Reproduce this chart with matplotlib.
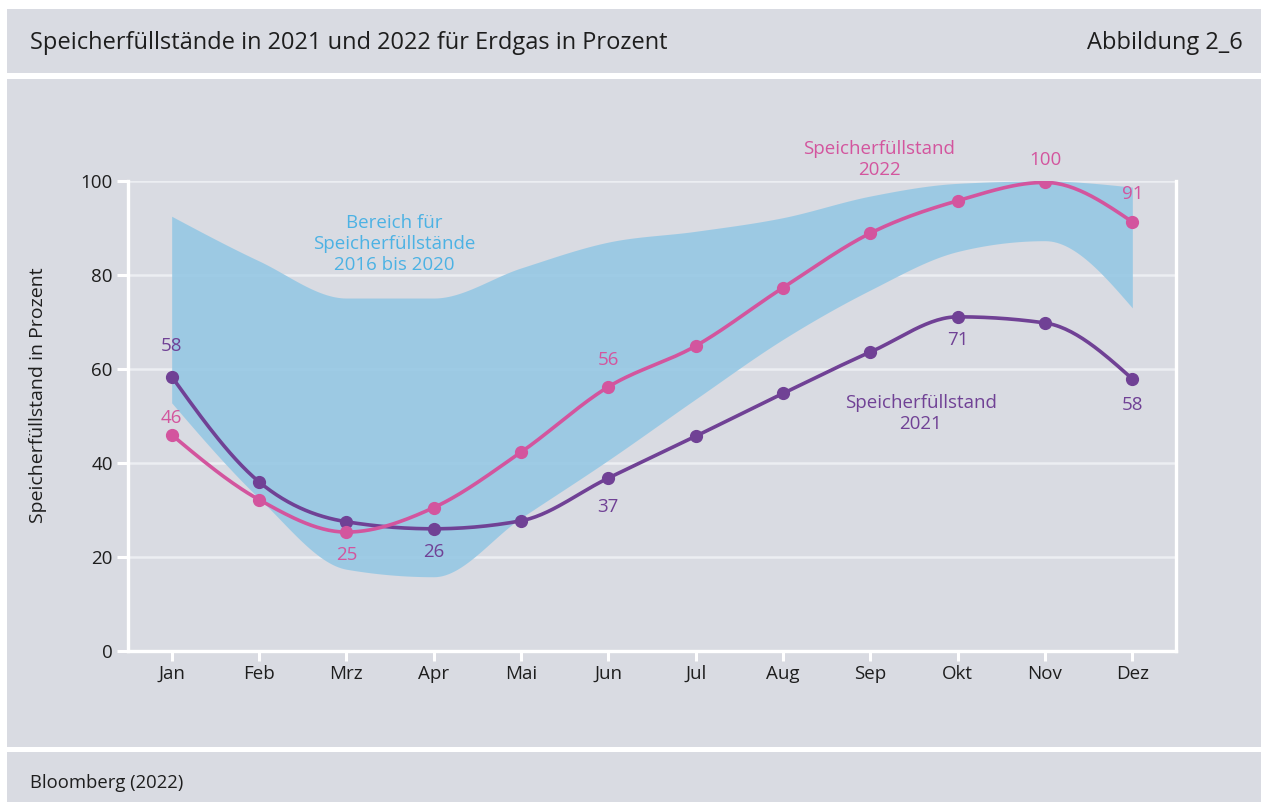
import numpy as np
import matplotlib
matplotlib.use("Agg")
import matplotlib.pyplot as plt
from matplotlib.patches import Rectangle

plt.rcParams['font.family'] = ['Open Sans', 'DejaVu Sans']

# data
months = ['Jan', 'Feb', 'Mrz', 'Apr', 'Mai', 'Jun', 'Jul', 'Aug', 'Sep', 'Okt', 'Nov', 'Dez']
fill_2021 = [58.4, 36.0, 27.5, 26.0, 27.7, 36.8, 45.7, 54.8, 63.6, 71.1, 69.8, 57.9]
fill_2022 = [46.0, 32.2, 25.3, 30.5, 42.3, 56.2, 64.9, 77.3, 88.9, 95.8, 99.7, 91.3]
band_upper = [92.5, 83.0, 75.1, 75.1, 81.5, 87.0, 89.3, 92.2, 96.8, 99.5, 100.0, 98.7]
band_lower = [52.8, 32.5, 17.4, 15.8, 28.3, 40.6, 53.6, 66.3, 76.8, 85.0, 87.3, 73.0]

# which points get a value label, and where (+ above, - below, in points)
labels_2021 = {0: 22, 3: -17, 5: -21, 9: -17, 11: -19}
labels_2022 = {0: 12, 2: -16.5, 5: 19, 10: 16, 11: 20}

BG = '#d9dbe2'
PURPLE = '#704195'
PINK = '#d3559e'
BLUE_TXT = '#4cb2e4'
BAND = '#96c8e4'


def smooth(y, n=30):
    # monotone cubic (steffen) through the points, only for drawing
    y = np.asarray(y, float)
    m = len(y)
    s = np.diff(y)
    t = np.zeros(m)
    for i in range(1, m - 1):
        s0, s1 = s[i - 1], s[i]
        p = (s0 + s1) / 2
        t[i] = (np.sign(s0) + np.sign(s1)) * min(abs(s0), abs(s1), 0.5 * abs(p))
    t[0] = (3 * s[0] - t[1]) / 2
    t[-1] = (3 * s[-1] - t[-2]) / 2
    xs, ys = [], []
    u = np.linspace(0, 1, n, endpoint=False)
    for i in range(m - 1):
        h00 = 2 * u ** 3 - 3 * u ** 2 + 1
        h10 = u ** 3 - 2 * u ** 2 + u
        h01 = -2 * u ** 3 + 3 * u ** 2
        h11 = u ** 3 - u ** 2
        xs.append(i + u)
        ys.append(h00 * y[i] + h10 * t[i] + h01 * y[i + 1] + h11 * t[i + 1])
    xs.append([m - 1])
    ys.append([y[-1]])
    return np.concatenate(xs), np.concatenate(ys)


W, H = 1261, 802
fig = plt.figure(figsize=(W / 100, H / 100), dpi=100, facecolor='white')

# panels
for top, bot in [(9, 73), (79, 747), (752, 802)]:
    fig.patches.append(Rectangle((7 / W, 1 - bot / H), 1 - 7 / W, (bot - top) / H,
                                 transform=fig.transFigure, facecolor=BG, edgecolor='none', zorder=-5))

fig.text(30 / W, 1 - 43 / H, 'Speicherfüllstände in 2021 und 2022 für Erdgas in Prozent',
         fontsize=17, color='#1e1e1e', va='center', ha='left')
fig.text(1243 / W, 1 - 43 / H, 'Abbildung 2_6', fontsize=17, color='#1e1e1e', va='center', ha='right')
fig.text(30 / W, 1 - 783 / H, 'Bloomberg (2022)', fontsize=13.3, color='#1e1e1e', va='center', ha='left')
fig.text(38 / W, 1 - 395 / H, 'Speicherfüllstand in Prozent', fontsize=14, color='#1e1e1e',
         rotation=90, va='center', ha='center')

ax = fig.add_axes([128 / W, 151 / H, (1176 - 128) / W, (651 - 181) / H])
ax.set_facecolor(BG)
ax.patch.set_alpha(0)
ax.set_xlim(-0.5, 11.5)
ax.set_ylim(0, 100)

x = np.arange(len(months))

xs, up = smooth(band_upper)
_, lo = smooth(band_lower)
ax.fill_between(xs, lo, up, color=BAND, alpha=0.9, lw=0, zorder=2)

for vals, col in [(fill_2021, PURPLE), (fill_2022, PINK)]:
    sx, sy = smooth(vals)
    ax.plot(sx, sy, color=col, lw=2.6, zorder=3, solid_capstyle='round')
    ax.plot(x, vals, 'o', color=col, ms=8.5, zorder=4)

for labels, vals, col in [(labels_2021, fill_2021, PURPLE), (labels_2022, fill_2022, PINK)]:
    for i, off in labels.items():
        ax.annotate(f'{round(vals[i])}', (x[i], vals[i]), xytext=(0, off), textcoords='offset points',
                    ha='center', va='center', fontsize=13.5, color=col, zorder=5, fontweight='medium')

ax.text(2.55, 86.6, 'Bereich für\nSpeicherfüllstände\n2016 bis 2020', ha='center', va='center',
        fontsize=13.5, color=BLUE_TXT, linespacing=1.2, zorder=5, fontweight='medium')
ax.text(8.1, 104.6, 'Speicherfüllstand\n2022', ha='center', va='center',
        fontsize=13.5, color=PINK, linespacing=1.2, fontweight='medium')
ax.text(8.58, 50.6, 'Speicherfüllstand\n2021', ha='center', va='center',
        fontsize=13.5, color=PURPLE, linespacing=1.2, fontweight='medium')

ax.set_xticks(x)
ax.set_xticklabels(months)
ax.set_yticks([0, 20, 40, 60, 80, 100])
ax.tick_params(axis='both', colors='white', labelcolor='#1e1e1e', labelsize=13.5, width=2.2)
ax.tick_params(axis='x', length=7, pad=3)
ax.tick_params(axis='y', length=8, pad=3)
ax.grid(axis='y', color='#eceef2', lw=1.8, zorder=1)
ax.set_axisbelow(True)
for side in ['left', 'right', 'bottom']:
    ax.spines[side].set_color('white')
    ax.spines[side].set_linewidth(2.4)
ax.spines['top'].set_visible(False)

fig.savefig('out.png', dpi=100, facecolor='white')
